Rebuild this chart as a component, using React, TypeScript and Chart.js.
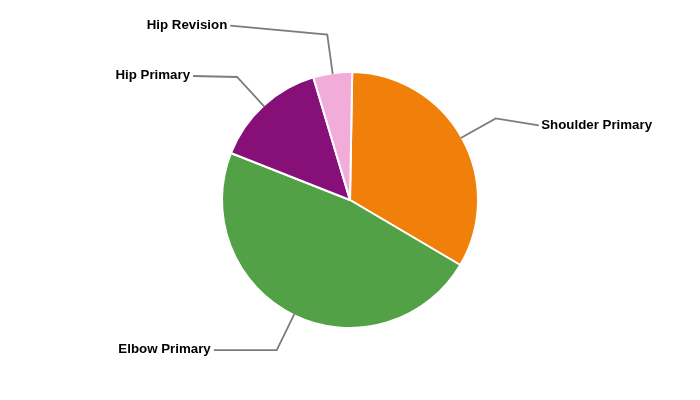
import React, { useEffect, useRef } from "react";
import { Chart, registerables } from "chart.js";

Chart.register(...registerables);

const categories = ["Shoulder Primary", "Elbow Primary", "Hip Primary", "Hip Revision"];
const values = [33.2, 47.5, 14.4, 4.9];
const colors = ["#F0800A", "#53A147", "#861078", "#F2ACD9"];
// label anchor offsets (from the leader line's elbow), layout only
const labelOffsets: [number, number][] = [
  [43, 7],
  [-63, 0],
  [-44, -1],
  [-97, -9],
];

const leaderPlugin = {
  id: "leaders",
  afterDatasetsDraw(chart: any) {
    const ctx = chart.ctx as CanvasRenderingContext2D;
    const meta = chart.getDatasetMeta(0);
    meta.data.forEach((arc: any, i: number) => {
      const { x, y, startAngle, endAngle, outerRadius } = arc.getProps(
        ["x", "y", "startAngle", "endAngle", "outerRadius"],
        true
      );
      const mid = (startAngle + endAngle) / 2;
      const r0 = outerRadius - 1;
      const p0x = x + Math.cos(mid) * r0;
      const p0y = y + Math.sin(mid) * r0;
      const p1x = x + Math.cos(mid) * (r0 + 40);
      const p1y = y + Math.sin(mid) * (r0 + 40);
      const [dx, dy] = labelOffsets[i];
      const p2x = p1x + dx;
      const p2y = p1y + dy;
      ctx.save();
      ctx.strokeStyle = "#7c7c7c";
      ctx.lineWidth = 1.8;
      ctx.beginPath();
      ctx.moveTo(p0x, p0y);
      ctx.lineTo(p1x, p1y);
      ctx.lineTo(p2x, p2y);
      ctx.stroke();
      ctx.fillStyle = "#000000";
      ctx.font = "bold 13.3px 'Liberation Sans', Arial, sans-serif";
      ctx.textBaseline = "alphabetic";
      if (dx > 0) {
        ctx.textAlign = "left";
        ctx.fillText(categories[i], p2x + 2.5, p2y + 3.6);
      } else {
        ctx.textAlign = "right";
        ctx.fillText(categories[i], p2x - 3, p2y + 3.4);
      }
      ctx.restore();
    });
  },
};

export default function App() {
  const ref = useRef<HTMLCanvasElement | null>(null);
  useEffect(() => {
    if (!ref.current) return;
    const chart = new Chart(ref.current, {
      type: "pie",
      data: {
        labels: categories,
        datasets: [
          {
            data: values,
            backgroundColor: colors,
            borderColor: "#ffffff",
            borderWidth: 2,
          },
        ],
      },
      options: {
        responsive: false,
        animation: false,
        rotation: 1,
        radius: 128,
        layout: { padding: 0 },
        plugins: {
          legend: { display: false },
          tooltip: { enabled: false },
        },
      },
      plugins: [leaderPlugin],
    });
    return () => chart.destroy();
  }, []);
  return (
    <div style={{ position: "absolute", left: 0, top: 0, width: 700, height: 400, background: "#fff" }}>
      <canvas ref={ref} width={700} height={400} style={{ display: "block" }} />
    </div>
  );
}
